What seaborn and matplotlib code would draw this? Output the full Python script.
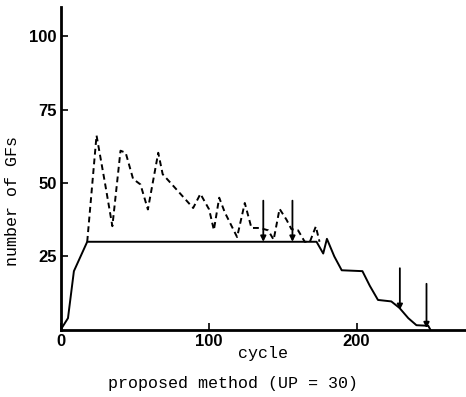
import matplotlib
matplotlib.use("Agg")
import matplotlib.pyplot as plt
import seaborn as sns
import pandas as pd

# solid line: number of GFs actually used
solid_cycle = [0, 5, 9, 18, 173, 177.5, 180, 185, 190, 204, 209, 214.5, 223.5, 229, 235, 240.5, 248.5, 250]
solid_gfs = [0, 4, 20, 30, 30, 26, 31, 25, 20.3, 20, 15, 10.2, 9.7, 7.5, 4, 1.6, 1.4, 0]

# dashed line: number of GFs requested
dash_cycle = [18, 24.3, 30, 35, 40.5, 44, 49, 54, 59, 66, 69, 78, 89.6, 94.5, 100.4, 103.6,
              107.2, 111, 119.3, 124.5, 129, 134.7, 140.3, 144, 148, 152.7, 156, 160.5,
              165, 168.5, 172.5, 175]
dash_gfs = [30, 66.2, 50, 35.3, 61, 60.3, 51.4, 49.5, 41, 60.3, 53, 48, 41.5, 46.3, 41, 34,
            45, 40, 31.6, 43.2, 34.7, 34.7, 33.9, 30.7, 41.2, 37.5, 34.3, 33.9,
            30, 30, 35.2, 30]

# vertical arrows (cycle, start, end)
arrow_cycle = [137, 156.7, 229.3, 247.3]
arrow_top = [44, 44, 21, 15.7]
arrow_bottom = [30, 30, 6.8, 0.6]

x_ticks = [0, 100, 200]
y_ticks = [25, 50, 75, 100]

solid = pd.DataFrame({"cycle": solid_cycle, "gfs": solid_gfs})
dashed = pd.DataFrame({"cycle": dash_cycle, "gfs": dash_gfs})

sns.set_style("ticks")
fig = plt.figure(figsize=(4.66, 3.97), dpi=100)
ax = fig.add_axes([0.130, 0.169, 0.87, 0.814])

sns.lineplot(data=dashed, x="cycle", y="gfs", ax=ax, color="black", lw=1.4,
             linestyle=(0, (3, 2)), sort=False)
sns.lineplot(data=solid, x="cycle", y="gfs", ax=ax, color="black", lw=1.4, sort=False)

for xa, yt, yb in zip(arrow_cycle, arrow_top, arrow_bottom):
    ax.annotate("", xy=(xa, yb), xytext=(xa, yt),
                arrowprops=dict(arrowstyle="-|>", color="black", lw=1.3,
                                mutation_scale=8, shrinkA=0, shrinkB=0))

ax.set_xlim(0, 274)
ax.set_ylim(0, 110)
ax.set_xticks(x_ticks)
ax.set_yticks(y_ticks)
tick_font = dict(family="Liberation Sans", weight="bold", size=12, color="black")
ax.set_xticklabels([str(t) for t in x_ticks], fontdict=tick_font)
ax.set_yticklabels([str(t) for t in y_ticks], fontdict=tick_font)
ax.tick_params(axis="both", direction="in", length=5, width=1.2, pad=3, color="black")

sns.despine(ax=ax)
for s in ["left", "bottom"]:
    ax.spines[s].set_linewidth(2)
    ax.spines[s].set_color("black")

mono = dict(family="Liberation Mono", size=12, color="black")
ax.set_xlabel("cycle", fontdict=mono, labelpad=-2)
ax.set_ylabel("number of GFs", fontdict=mono)
ax.yaxis.set_label_coords(-0.10, 0.40)
fig.text(0.5, 0.035, "proposed method (UP = 30)", ha="center", va="center", fontdict=mono)

fig.savefig("out.png", dpi=100)
